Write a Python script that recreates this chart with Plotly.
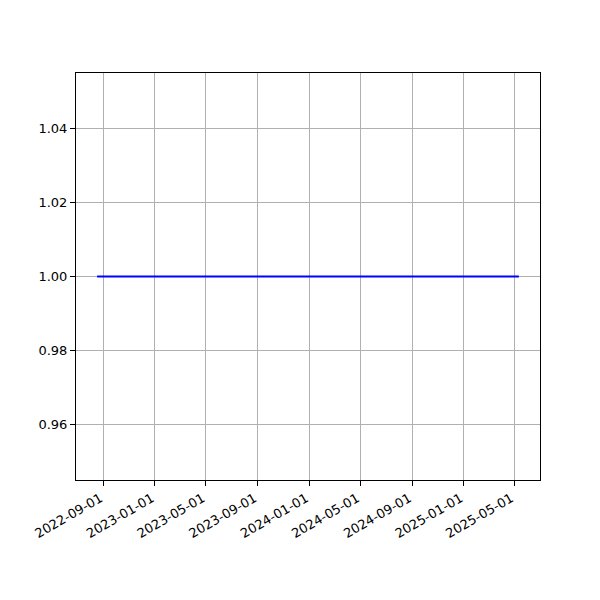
import plotly.graph_objects as go

dates = ["2022-08-17", "2025-05-12"]
values = [1.0, 1.0]
tick_dates = ["2022-09-01", "2023-01-01", "2023-05-01", "2023-09-01", "2024-01-01",
              "2024-05-01", "2024-09-01", "2025-01-01", "2025-05-01"]
y_ticks = [0.96, 0.98, 1.00, 1.02, 1.04]

fig = go.Figure(go.Scatter(x=dates, y=values, mode="lines",
                           line=dict(color="#0000ff", width=2)))

axis_common = dict(showline=True, linecolor="black", linewidth=1, mirror=True,
                   ticks="outside", ticklen=5, tickcolor="black", tickwidth=1,
                   showgrid=True, gridcolor="#b0b0b0", gridwidth=1, zeroline=False,
                   automargin=False,
                   tickfont=dict(family="DejaVu Sans", size=13, color="black"))

fig.update_layout(
    width=600, height=600,
    margin=dict(l=68, r=68, t=65, b=128),
    paper_bgcolor="white", plot_bgcolor="white",
    showlegend=False,
    xaxis=dict(type="date", range=["2022-06-28", "2025-07-01"],
               tickvals=tick_dates, ticktext=tick_dates, tickangle=-30,
               ticklabelshift=-3, **axis_common),
    yaxis=dict(range=[0.945, 1.055], tickvals=y_ticks,
               ticktext=[f"{v:.2f}" for v in y_ticks], **axis_common),
)

fig.write_html("out.html")
